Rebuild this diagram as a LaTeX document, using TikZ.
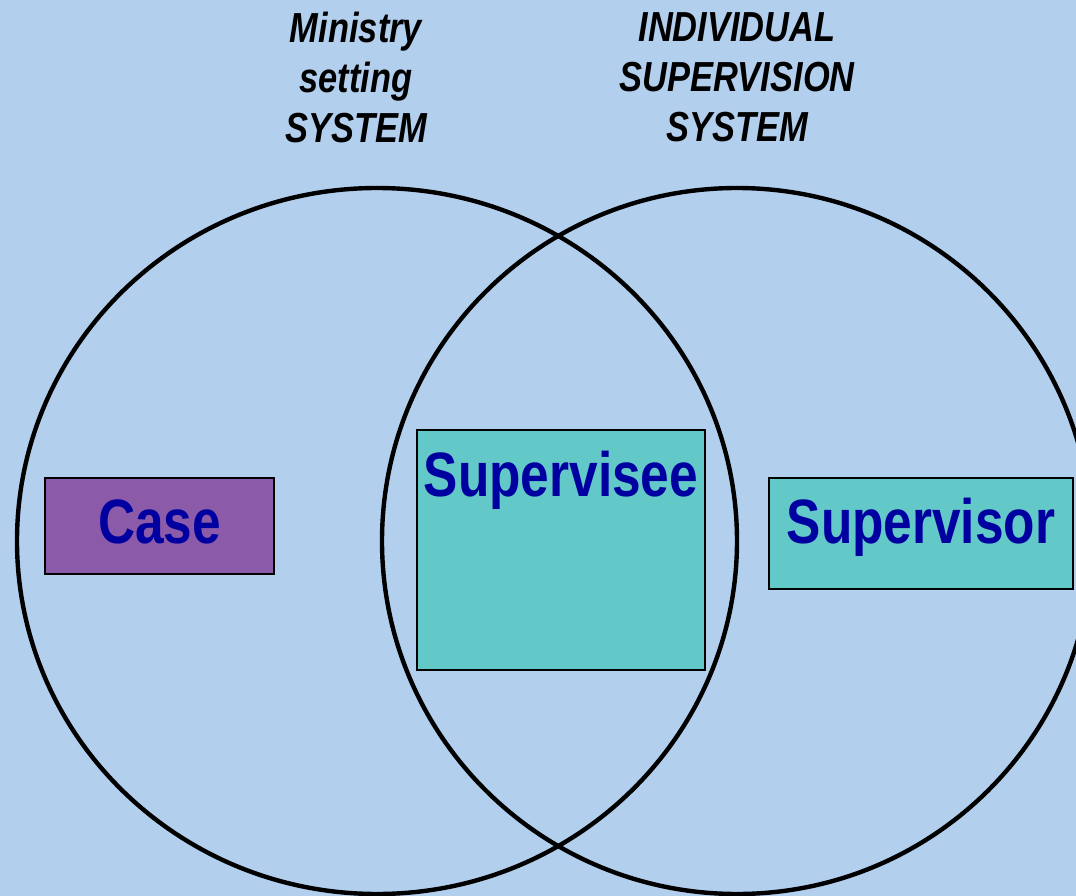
\documentclass[tikz,border=0pt]{standalone}
\usepackage{fontspec}
\usepackage{tikz}
\usetikzlibrary{positioning}
\newfontfamily\narrowfont[FakeStretch=0.82]{Liberation Sans}
\definecolor{bgblue}{HTML}{B3CFEE}
\definecolor{casepurple}{HTML}{8B5AA8}
\definecolor{boxteal}{HTML}{63C8C8}
\definecolor{labelblue}{HTML}{0000A0}
\tikzset{
  sysline/.style={draw, line width=3.3pt},
  box/.style={rectangle, draw, line width=1.5pt, anchor=north west, inner sep=0pt, align=center, text=labelblue, font=\narrowfont\bfseries\fontsize{47}{50}\selectfont},
  systitle/.style={anchor=north, inner sep=0pt, align=center, font=\narrowfont\bfseries\itshape\fontsize{31.5}{37.5}\selectfont}
}

\begin{document}
\begin{tikzpicture}[x=0.75pt, y=-0.75pt]
  \useasboundingbox (0,0) rectangle (1076,896);
  \fill[bgblue] (0,0) rectangle (1076,896);
  \clip (0,0) rectangle (1076,896);
  % the two systems
  \draw[sysline] (377,541) ellipse [x radius=360, y radius=353];
  \draw[sysline] (737,541) ellipse [x radius=355, y radius=353];
  \node[systitle] (ministry) at (356,12) {Ministry\\setting\\SYSTEM};
  \node[systitle] (individual) at (737,12) {INDIVIDUAL\\SUPERVISION\\SYSTEM};
  % members
  \node[box, fill=casepurple, minimum width=171.75pt, text height=48.75pt, text depth=23.25pt] (case) at (44,477) {Case};
  \node[box, fill=boxteal, minimum width=216pt, text height=49.5pt, text depth=130.5pt] (supervisee) at (416,429) {Supervisee};
  \node[box, fill=boxteal, minimum width=228pt, text height=48.75pt, text depth=34.5pt] (supervisor) at (768,477) {Supervisor};
\end{tikzpicture}
\end{document}
